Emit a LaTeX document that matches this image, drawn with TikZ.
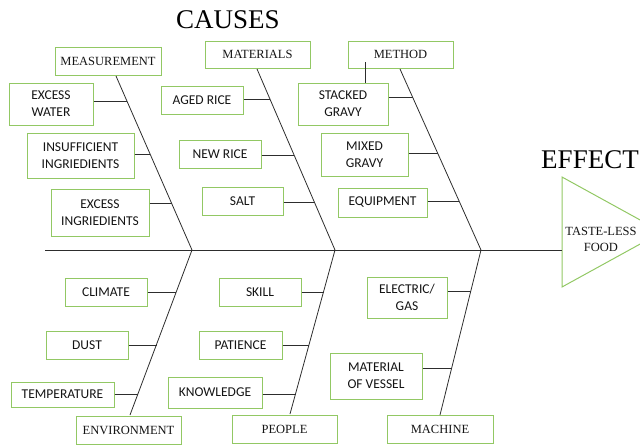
\documentclass[tikz,border=0pt]{standalone}
\usepackage{fontspec}
\setmainfont{Liberation Serif}
\newfontfamily\carlito{Carlito}
\definecolor{BoxColor}{RGB}{146,200,100}
\definecolor{BoneColor}{RGB}{45,45,45}
\definecolor{TextColor}{RGB}{20,20,20}
\tikzstyle{cause} = [draw=BoxColor, line width=1pt, align=center, text=TextColor, inner sep=0pt, font=\carlito\fontsize{13.5}{17}\selectfont]
\tikzstyle{category} = [cause, font=\fontsize{12.5}{15}\selectfont]
\tikzstyle{bone} = [BoneColor, line width=0.8pt]

\begin{document}
\begin{tikzpicture}[x=1pt, y=-1pt]
            \useasboundingbox (0,0) rectangle (640,445);

            % Titles
            \node[anchor=base, font=\fontsize{27}{30}\selectfont] (causes) at (228,28) {CAUSES};
            \node[anchor=base, font=\fontsize{27}{30}\selectfont] (effecttitle) at (590,168) {EFFECT};

            % Effect head
            \draw[BoxColor, line width=1pt] (562,177) -- (662,232) -- (562,287) -- cycle;
            \node[align=center, text=TextColor, font=\fontsize{12.5}{16}\selectfont] (effect) at (601,239) {TASTE-LESS\\FOOD};

            % Spine
            \coordinate (tail) at (45,250);
            \coordinate (head) at (562,250);
            \draw[bone] (tail) -- (head);

            % Bones
            \coordinate (j1) at (192,250);
            \coordinate (j2) at (335,250);
            \coordinate (j3) at (481,250);

            % Categories above
            \node[category, minimum width=106, minimum height=28] (meas) at (108,61) {MEASUREMENT};
            \node[category, minimum width=105, minimum height=27] (mat) at (257.5,54.5) {MATERIALS};
            \node[category, minimum width=105, minimum height=27] (meth) at (400.5,54.5) {METHOD};
            \coordinate (mT) at (116,76);
            \coordinate (aT) at (257,69);
            \coordinate (hT) at (400,69);
            \draw[bone] (mT) -- (j1);
            \draw[bone] (aT) -- (j2);
            \draw[bone] (hT) -- (j3);

            % Categories below
            \node[category, minimum width=105, minimum height=28] (env) at (128.5,430) {ENVIRONMENT};
            \node[category, minimum width=105, minimum height=28] (peop) at (284.5,429) {PEOPLE};
            \node[category, minimum width=106, minimum height=28] (mach) at (440,429) {MACHINE};
            \coordinate (eB) at (130,415);
            \coordinate (pB) at (290,414);
            \coordinate (cB) at (440,415);
            \draw[bone] (j1) -- (eB);
            \draw[bone] (j2) -- (pB);
            \draw[bone] (j3) -- (cB);

            % Measurement
            \node[cause, minimum width=84, minimum height=42] (exw) at (51,104) {EXCESS\\WATER};
            \node[cause, minimum width=107, minimum height=45] (insf) at (80.5,155.5) {INSUFFICIENT\\INGRIEDIENTS};
            \node[cause, minimum width=98, minimum height=47] (exi) at (100,212.5) {EXCESS\\INGRIEDIENTS};
            \coordinate (b1) at (127,101);
            \coordinate (b2) at (150,154);
            \coordinate (b3) at (171.5,203);
            \draw[bone] (exw.east |- b1) -- (b1);
            \draw[bone] (insf.east |- b2) -- (b2);
            \draw[bone] (exi.east |- b3) -- (b3);

            % Materials
            \node[cause, minimum width=82, minimum height=28] (aged) at (202,100) {AGED RICE};
            \node[cause, minimum width=82, minimum height=28] (newr) at (220,154) {NEW RICE};
            \node[cause, minimum width=81, minimum height=28] (salt) at (242.5,201) {SALT};
            \coordinate (b4) at (270,99);
            \coordinate (b5) at (294,155);
            \coordinate (b6) at (314,202);
            \draw[bone] (aged.east |- b4) -- (b4);
            \draw[bone] (newr.east |- b5) -- (b5);
            \draw[bone] (salt.east |- b6) -- (b6);

            % Method
            \node[cause, minimum width=90, minimum height=42] (stack) at (343,104) {STACKED\\GRAVY};
            \node[cause, minimum width=87, minimum height=43] (mix) at (364.5,154.5) {MIXED\\GRAVY};
            \node[cause, minimum width=89, minimum height=29] (equip) at (382.5,202.5) {EQUIPMENT};
            \coordinate (b7) at (412.5,97);
            \coordinate (b8) at (437.5,153);
            \coordinate (b9) at (459,201);
            \draw[bone] (stack.east |- b7) -- (b7);
            \draw[bone] (mix.east |- b8) -- (b8);
            \draw[bone] (equip.east |- b9) -- (b9);
            \coordinate (link) at (365,62);
            \draw[bone] (link) -- (stack.north -| link);

            % Environment
            \node[cause, minimum width=82, minimum height=28] (clim) at (106,292) {CLIMATE};
            \node[cause, minimum width=82, minimum height=28] (dust) at (87,345) {DUST};
            \node[cause, minimum width=103, minimum height=25] (temp) at (62.5,394.5) {TEMPERATURE};
            \coordinate (b10) at (176,292);
            \coordinate (b11) at (156.5,345);
            \coordinate (b12) at (138,394);
            \draw[bone] (clim.east |- b10) -- (b10);
            \draw[bone] (dust.east |- b11) -- (b11);
            \draw[bone] (temp.east |- b12) -- (b12);

            % People
            \node[cause, minimum width=82, minimum height=28] (skill) at (260,292) {SKILL};
            \node[cause, minimum width=83, minimum height=28] (pat) at (240.5,345) {PATIENCE};
            \node[cause, minimum width=94, minimum height=31] (know) at (215,392.5) {KNOWLEDGE};
            \coordinate (b13) at (323.5,292);
            \coordinate (b14) at (309,345);
            \coordinate (b15) at (295.5,394);
            \draw[bone] (skill.east |- b13) -- (b13);
            \draw[bone] (pat.east |- b14) -- (b14);
            \draw[bone] (know.east |- b15) -- (b15);

            % Machine
            \node[cause, minimum width=80, minimum height=41] (elec) at (407,297.5) {ELECTRIC/\\GAS};
            \node[cause, minimum width=92, minimum height=46] (matv) at (376,376) {MATERIAL\\OF VESSEL};
            \coordinate (b16) at (471,291);
            \coordinate (b17) at (452,368);
            \draw[bone] (elec.east |- b16) -- (b16);
            \draw[bone] (matv.east |- b17) -- (b17);
        \end{tikzpicture}
\end{document}
